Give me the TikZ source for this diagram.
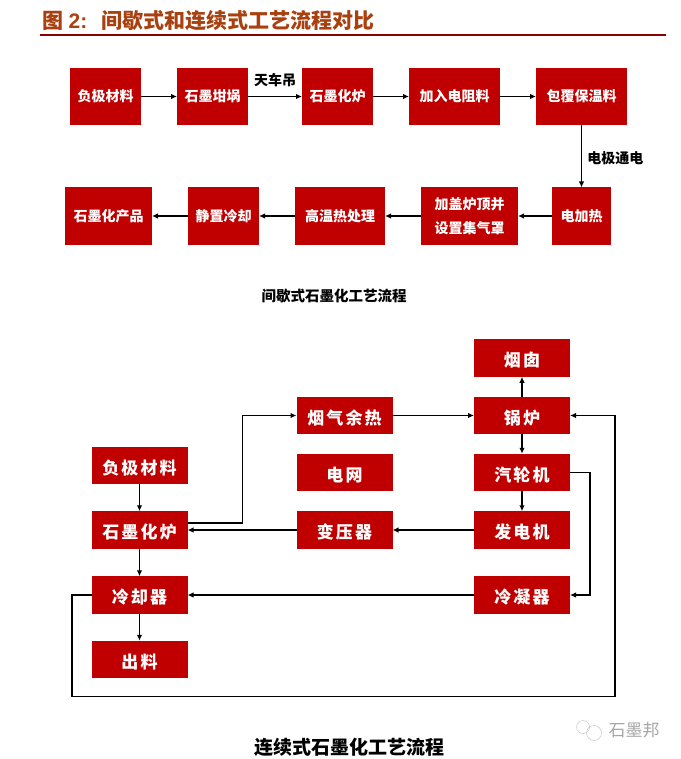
\documentclass[tikz,border=0pt]{standalone}
\usepackage{fontspec}
\setmainfont{Noto Sans CJK SC}
\newfontfamily\latinfont{Liberation Sans}
\newfontfamily\widefont{Noto Sans CJK SC}[LetterSpace=12]
\usetikzlibrary{positioning,arrows.meta}
\definecolor{boxred}{HTML}{C00000}
\definecolor{titlebrown}{HTML}{A8400F}
\definecolor{rulered}{HTML}{8B0000}
\tikzset{
    stepbox/.style={fill=boxred,text=white,font=\bfseries\fontsize{14}{18}\selectfont,minimum height=57pt,inner sep=0pt,outer sep=0pt,align=center},
    plantbox/.style={stepbox,font=\widefont\bfseries\fontsize{17}{20}\selectfont,minimum width=96pt,minimum height=37.5pt,text height=18pt,text depth=1pt},
    steplabel/.style={font=\bfseries\fontsize{14}{16}\selectfont},
    caption/.style={font=\bfseries\fontsize{14.5}{16}\selectfont},
}
\begin{document}
\begin{tikzpicture}[->,>={Latex[length=6pt,width=5.5pt]},line width=1.2pt,x=1pt,y=-1pt]
            \useasboundingbox (0,0) rectangle (680,759);

            \node (title) [anchor=west,text=titlebrown,font=\bfseries\fontsize{21}{24}\selectfont,inner sep=0pt] at (42,21) {图\hspace{5pt}{\latinfont 2:}\hspace{14pt}间歇式和连续式工艺流程对比};
            \coordinate (rulel) at (40,35.5);
            \coordinate (ruler) at (666,35.5);
            \draw [-,rulered,line width=2pt] (rulel) -- (ruler);

            \node (material) [stepbox,minimum width=71pt] at (105.5,96.5) {负极材料};
            \node (crucible) [stepbox,minimum width=71pt,right=36pt of material] {石墨坩埚};
            \node (furnace) [stepbox,minimum width=71pt,right=54pt of crucible] {石墨化炉};
            \node (resistor) [stepbox,minimum width=91pt,right=36pt of furnace] {加入电阻料};
            \node (wrap) [stepbox,minimum width=91pt,right=36pt of resistor] {包覆保温料};
            \node (heat) [stepbox,minimum width=59pt,below=62.5pt of wrap] {电加热};
            \node (cover) [stepbox,minimum width=97pt,left=34pt of heat,font=\bfseries\fontsize{14}{24}\selectfont] {加盖炉顶并\\设置集气罩};
            \node (hightemp) [stepbox,minimum width=90pt,left=36pt of cover] {高温热处理};
            \node (cool) [stepbox,minimum width=71pt,left=36pt of hightemp] {静置冷却};
            \node (product) [stepbox,minimum width=87pt,left=36pt of cool] {石墨化产品};
            \node (batchcap) [caption] at (334,296) {间歇式石墨化工艺流程};

            \path
            (material) edge node {} (crucible)
            (crucible) edge node [above=6pt,steplabel,text=black] {天车吊} (furnace)
            (furnace) edge node {} (resistor)
            (resistor) edge node {} (wrap)
            (wrap) edge node [right=2pt,yshift=-2pt,steplabel,text=black] {电极通电} (heat)
            (heat) edge node {} (cover)
            (cover) edge node {} (hightemp)
            (hightemp) edge node {} (cool)
            (cool) edge node {} (product);

            \node (chimney) [plantbox] at (522,358) {烟囱};
            \node (boiler) [plantbox,below=20pt of chimney] {锅炉};
            \node (turbine) [plantbox,below=19.5pt of boiler] {汽轮机};
            \node (generator) [plantbox,below=20pt of turbine] {发电机};
            \node (condenser) [plantbox,below=27.5pt of generator] {冷凝器};
            \node (flue) [plantbox,left=81.5pt of boiler] {烟气余热};
            \node (grid) [plantbox,left=81.5pt of turbine] {电网};
            \node (transformer) [plantbox,left=81.5pt of generator] {变压器};
            \node (oven) [plantbox,left=109pt of transformer] {石墨化炉};
            \node (anode) [plantbox,above=27pt of oven] {负极材料};
            \node (cooler) [plantbox,below=27.5pt of oven] {冷却器};
            \node (output) [plantbox,below=27pt of cooler] {出料};
            \node (contcap) [caption,font=\bfseries\fontsize{19}{20}\selectfont] at (349,747) {连续式石墨化工艺流程};

            \coordinate (turna) at (242.5,470);
            \coordinate [right=20pt of turbine] (turnb);
            \coordinate (loopl) at (72,696.5);
            \coordinate (loopr) at (615,696.5);

            \path
            (boiler) edge node {} (chimney)
            (boiler) edge node {} (turbine)
            (turbine) edge node {} (generator)
            (flue) edge node {} (boiler)
            (generator) edge node {} (transformer)
            (transformer) edge node {} (oven)
            (condenser) edge node {} (cooler)
            (anode) edge node {} (oven)
            (oven) edge node {} (cooler)
            (cooler) edge node {} (output);

            \draw ([yshift=7pt]oven.east) -| (turna) |- (flue.west);
            \draw (turbine.east) -- (turnb) |- (condenser.east);
            \draw (cooler.west) -| (loopl) -- (loopr) |- (boiler.east);

            \node (mark) [text=gray!70,font=\fontsize{17}{18}\selectfont,anchor=west,inner sep=0pt] at (608,730) {石墨邦};
            \node (bubblea) [-,draw=gray!45,line width=.5pt,circle,minimum size=13pt,inner sep=0pt] at (583,727) {};
            \node (bubbleb) [-,draw=gray!45,line width=.5pt,circle,minimum size=15pt,inner sep=0pt] at (594,733) {};
\end{tikzpicture}
\end{document}
